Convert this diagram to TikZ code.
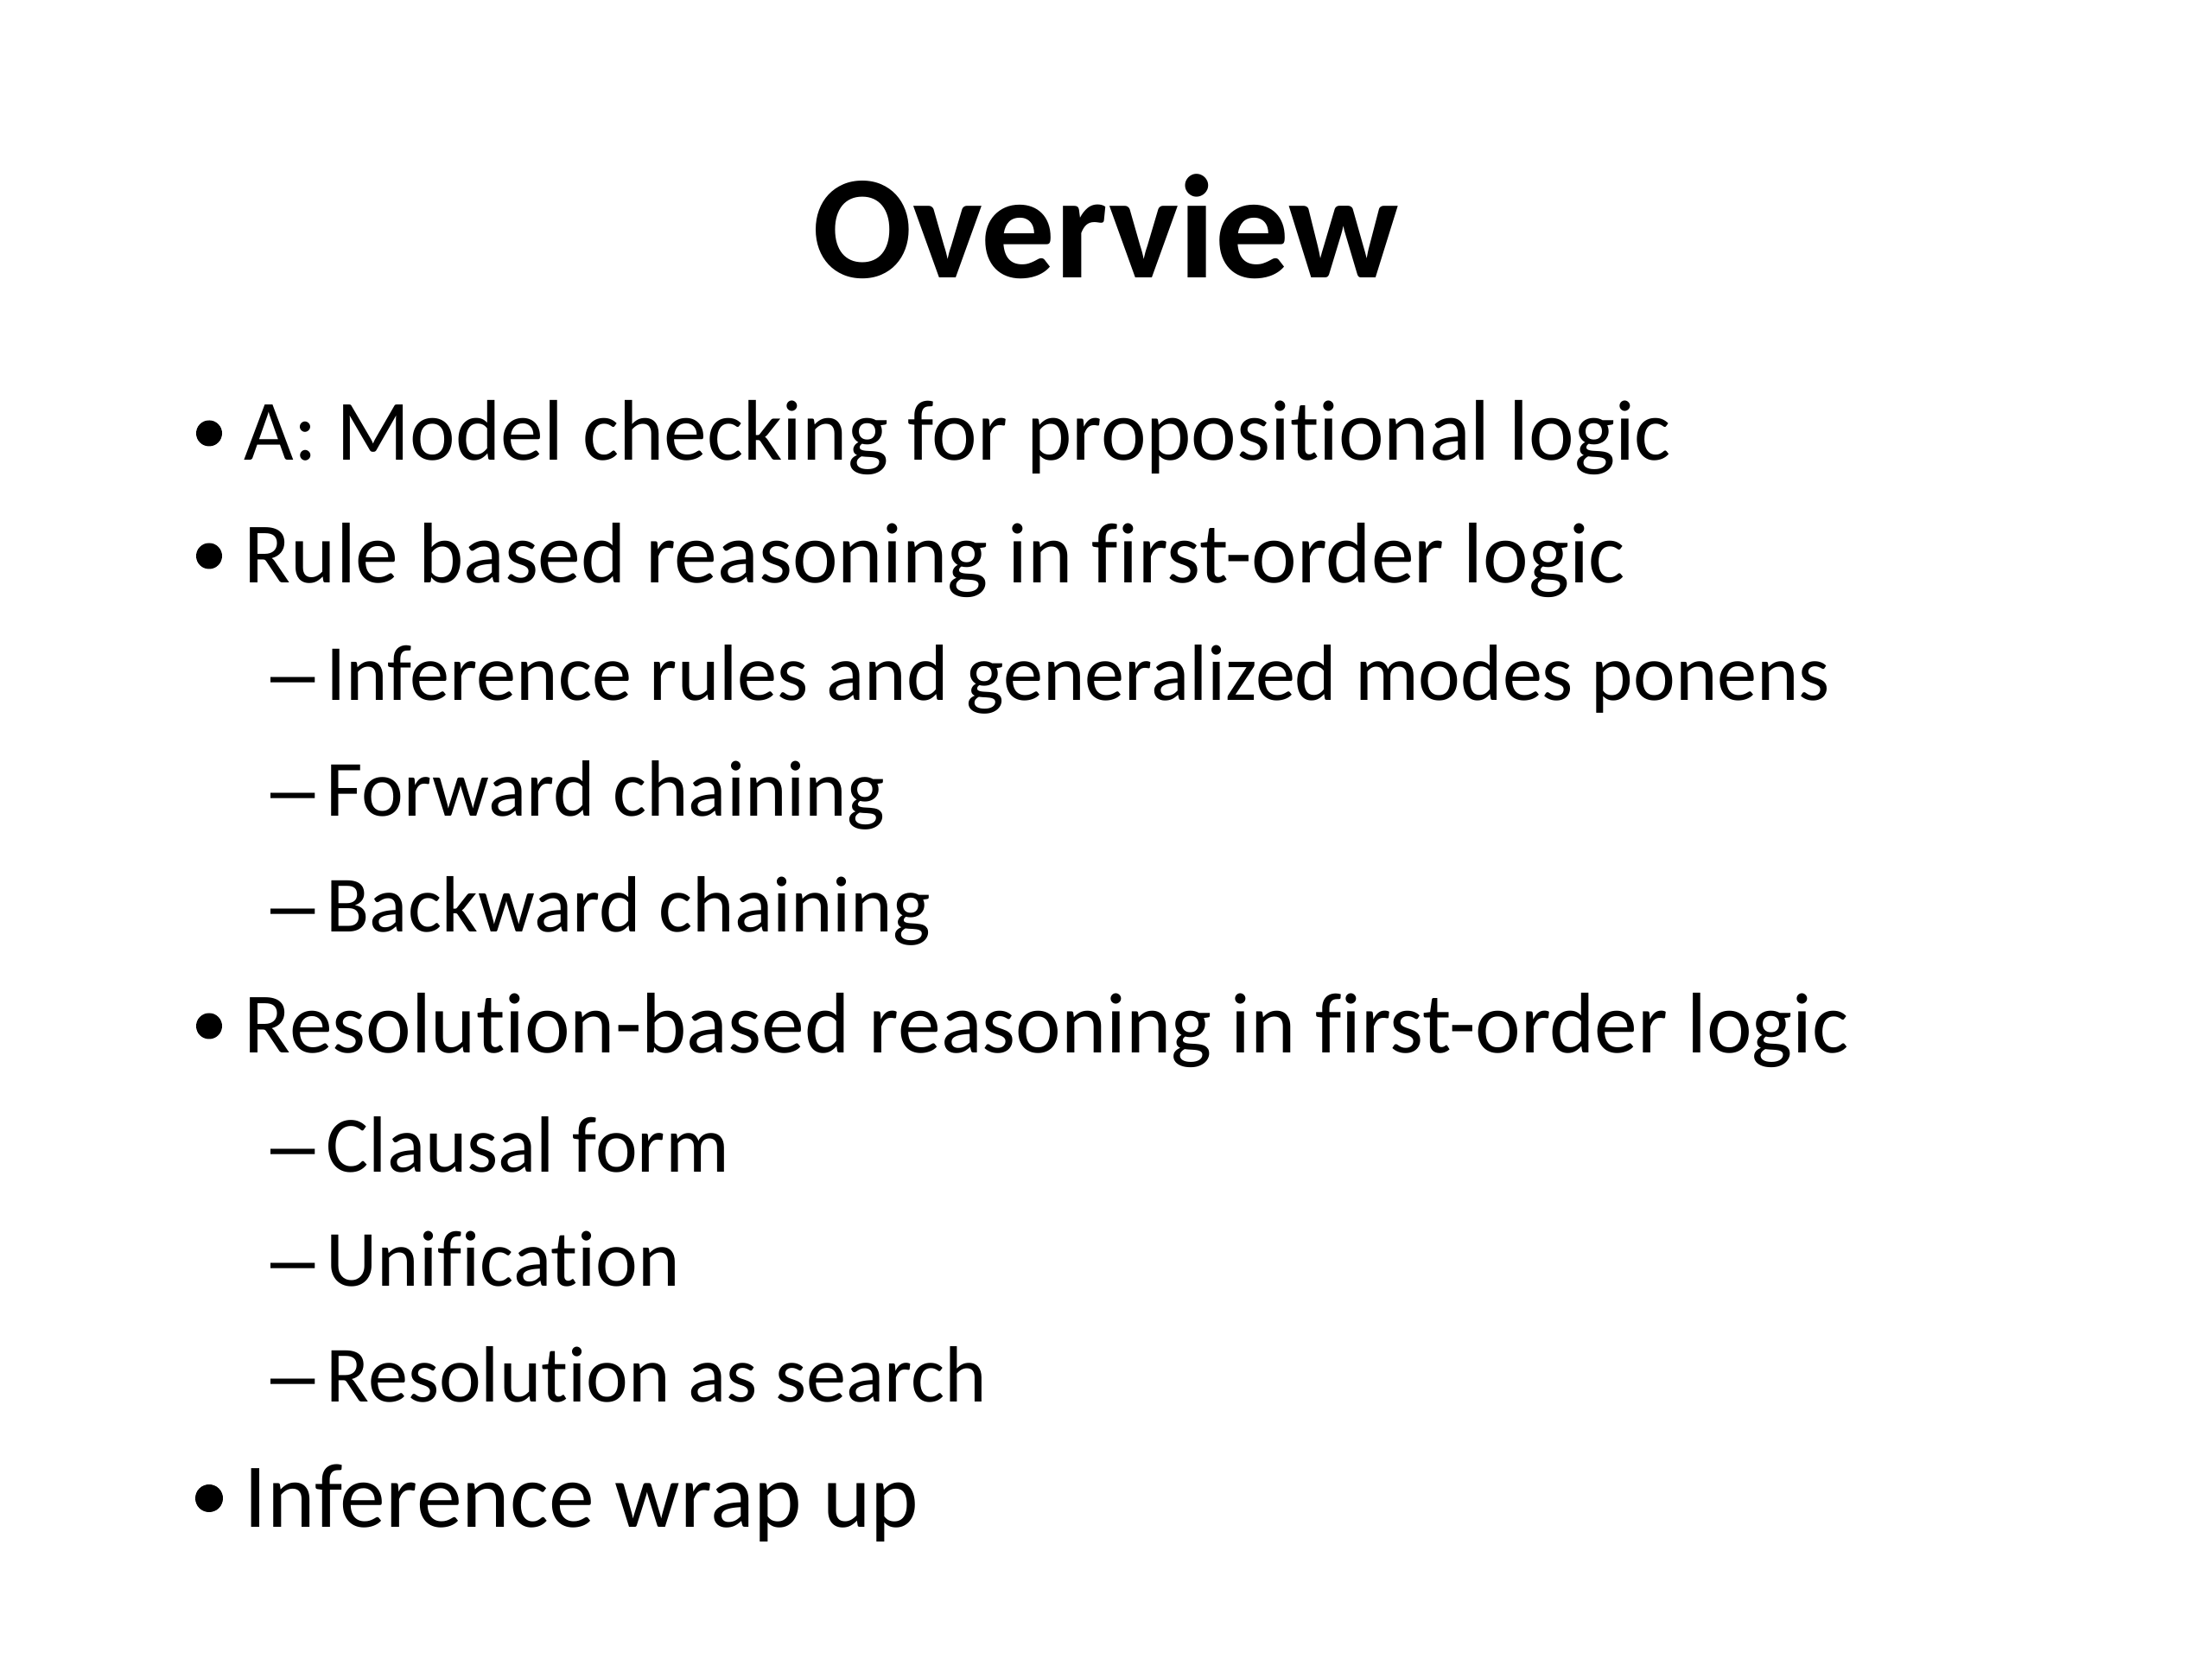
\documentclass[tikz,border=0pt]{standalone}
\usepackage{fontspec}
\setmainfont[Ligatures={NoCommon}]{Carlito}
\newfontfamily\bulfont{Liberation Sans}
\begin{document}
\begin{tikzpicture}[x=1cm,y=1cm,
  ttl/.style={anchor=base, inner sep=0pt, font=\fontsize{48.6}{56}\selectfont\bfseries},
  lvla/.style={anchor=base west, inner sep=0pt, font=\fontsize{28.34}{34}\selectfont},
  lvlb/.style={anchor=base west, inner sep=0pt, font=\fontsize{26.26}{32}\selectfont},
  lvlc/.style={anchor=base west, inner sep=0pt, font=\fontsize{30.1}{36}\selectfont},
  bul/.style={circle, fill=black, inner sep=0pt, minimum size=0.30cm},
  bulc/.style={circle, fill=black, inner sep=0pt, minimum size=0.32cm},
  dsh/.style={anchor=base west, inner sep=0pt, font=\bulfont\fontsize{26.26}{32}\selectfont}]
\fill[white] (0,0) rectangle (25.6,19.2);
\useasboundingbox (0,0) rectangle (25.6,19.2);
\node[ttl] (title) at (12.80,15.98) {Overview};
% level 1
\node[bul] (b1) at (2.42,14.185) {};
\node[lvla] (t1) at (2.82,13.87) {A: Model checking for propositional logic};
\node[bul] (b2) at (2.42,12.765) {};
\node[lvla] (t2) at (2.82,12.45) {Rule based reasoning in first-order logic};
\node[dsh] (d1) at (3.13,11.09) {–};
\node[lvlb] (s1) at (3.77,11.09) {Inference rules and generalized modes ponens};
\node[dsh] (d2) at (3.13,9.75) {–};
\node[lvlb] (s2) at (3.77,9.75) {Forward chaining};
\node[dsh] (d3) at (3.13,8.41) {–};
\node[lvlb] (s3) at (3.77,8.41) {Backward chaining};
\node[bul] (b3) at (2.42,7.325) {};
\node[lvla] (t3) at (2.82,7.01) {Resolution-based reasoning in first-order logic};
\node[dsh] (d4) at (3.13,5.63) {–};
\node[lvlb] (s4) at (3.77,5.63) {Clausal form};
\node[dsh] (d5) at (3.13,4.31) {–};
\node[lvlb] (s5) at (3.77,4.31) {Unification};
\node[dsh] (d6) at (3.13,2.97) {–};
\node[lvlb] (s6) at (3.77,2.97) {Resolution as search};
\node[bulc] (b4) at (2.42,1.86) {};
\node[lvlc] (t4) at (2.82,1.52) {Inference wrap up};
\end{tikzpicture}
\end{document}
